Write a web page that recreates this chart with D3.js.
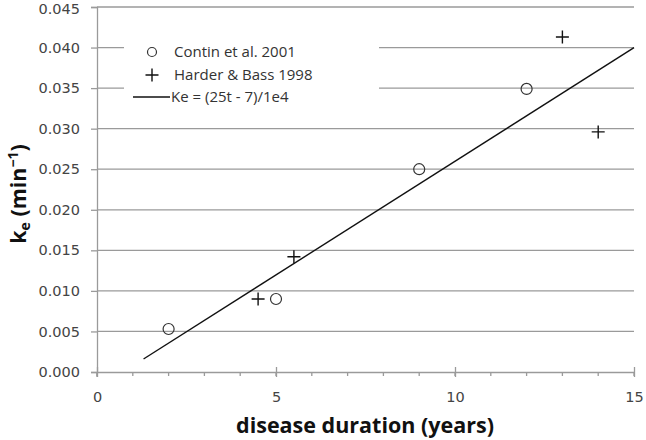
<!DOCTYPE html>
<html><head><meta charset="utf-8">
<script src="https://cdn.jsdelivr.net/npm/d3@7"></script>
<style>body{margin:0;background:#fff}svg{display:block}</style>
</head><body>
<svg id="c" width="646" height="440"></svg>
<script>
const continT = [2, 5, 9, 12];
const continKe = [0.0053, 0.0090, 0.0250, 0.0349];
const harderT = [4.5, 5.5, 13, 14];
const harderKe = [0.0090, 0.0142, 0.0413, 0.0296];
const fitT = [1.3, 15];
const fitKe = [0.0016, 0.0400];
const xTicks = [0, 5, 10, 15];
const yTicks = [0, 0.005, 0.010, 0.015, 0.020, 0.025, 0.030, 0.035, 0.040, 0.045];
const legendLabels = ["Contin et al. 2001", "Harder & Bass 1998", "Ke = (25t - 7)/1e4"];

const svg = d3.select("#c");
const x = d3.scaleLinear().domain([0, 15]).range([97, 634]);
const y = d3.scaleLinear().domain([0, 0.045]).range([372, 7]);
const grey = "#9a9a9a";
const tickFont = "'DejaVu Sans', Verdana, sans-serif";
const textFont = "'Open Sans', Lato, sans-serif";

// gridlines
svg.append("g").selectAll("line").data(yTicks.filter(d => d > 0)).join("line")
  .attr("x1", x(0)).attr("x2", x(15)).attr("y1", d => y(d)).attr("y2", d => y(d))
  .attr("stroke", grey).attr("stroke-width", 1.3);

// y axis
const yAxis = d3.axisLeft(y).tickValues(yTicks).tickFormat(d3.format(".3f")).tickSize(6).tickPadding(11);
const gy = svg.append("g").attr("transform", `translate(${x(0)},0)`).call(yAxis);
gy.select(".domain").attr("stroke", grey).attr("stroke-width", 1.3);
gy.selectAll(".tick line").attr("stroke", grey).attr("stroke-width", 1.3);
gy.selectAll(".tick text").attr("font-family", tickFont).attr("font-size", 14.5).attr("fill", "#444")
  .attr("dy", (d) => d === 0.045 ? "0.42em" : "0.32em");

// x axis minor ticks
const gx = svg.append("g").attr("transform", `translate(0,${y(0)})`);
gx.selectAll("line.minor").data(d3.range(0, 16)).join("line").attr("class", "minor")
  .attr("x1", d => x(d)).attr("x2", d => x(d)).attr("y1", 0).attr("y2", 4)
  .attr("stroke", grey).attr("stroke-width", 1.3);
const xAxis = d3.axisBottom(x).tickValues(xTicks).tickFormat(d3.format("d")).tickSizeInner(5).tickSizeOuter(0).tickPadding(15);
gx.call(xAxis);
gx.select(".domain").attr("stroke", grey).attr("stroke-width", 1.3);
gx.selectAll(".tick line").attr("y1", -5).attr("y2", 5).attr("stroke", grey).attr("stroke-width", 1.3);
gx.selectAll(".tick text").attr("font-family", tickFont).attr("font-size", 14.5).attr("fill", "#444");
svg.append("line").attr("x1", x(0)).attr("x2", x(0)).attr("y1", y(0)).attr("y2", y(0) + 5)
  .attr("stroke", grey).attr("stroke-width", 1.3);

// legend background
svg.append("rect").attr("x", 124).attr("y", 30).attr("width", 255).attr("height", 80).attr("fill", "#fff");

// fit line
svg.append("path").datum(fitT.map((t, i) => [t, fitKe[i]]))
  .attr("d", d3.line().x(d => x(d[0])).y(d => y(d[1])))
  .attr("fill", "none").attr("stroke", "#111").attr("stroke-width", 1.4);

// circles
svg.append("g").selectAll("circle").data(continT.map((t, i) => [t, continKe[i]])).join("circle")
  .attr("cx", d => x(d[0])).attr("cy", d => y(d[1])).attr("r", 5.5)
  .attr("fill", "none").attr("stroke", "#333").attr("stroke-width", 1.2);

// plus
const plusPath = (cx, cy, h) => `M${cx - h},${cy}H${cx + h}M${cx},${cy - h}V${cy + h}`;
svg.append("g").selectAll("path").data(harderT.map((t, i) => [t, harderKe[i]])).join("path")
  .attr("d", d => plusPath(x(d[0]), y(d[1]), 6.5))
  .attr("fill", "none").attr("stroke", "#111").attr("stroke-width", 1.4);

// legend
const lg = svg.append("g");
lg.append("circle").attr("cx", 152).attr("cy", 52).attr("r", 4.5).attr("fill", "none").attr("stroke", "#333").attr("stroke-width", 1.2);
lg.append("path").attr("d", plusPath(152, 75, 6.5)).attr("fill", "none").attr("stroke", "#111").attr("stroke-width", 1.4);
lg.append("line").attr("x1", 133).attr("x2", 170).attr("y1", 97).attr("y2", 97).attr("stroke", "#111").attr("stroke-width", 1.3);
lg.selectAll("text").data(legendLabels).join("text")
  .attr("x", (d, i) => i === 2 ? 171 : 174).attr("y", (d, i) => [52, 75, 97][i]).attr("dy", "0.35em")
  .attr("font-family", textFont).attr("font-size", 15).attr("fill", "#333").text(d => d);

// axis titles
svg.append("text").attr("x", 365).attr("y", 433).attr("text-anchor", "middle")
  .attr("font-family", textFont).attr("font-weight", "bold").attr("font-size", 21.5).attr("fill", "#111")
  .text("disease duration (years)");
const yt = svg.append("text").attr("transform", "translate(26,194) rotate(-90)").attr("text-anchor", "middle")
  .attr("font-family", textFont).attr("font-weight", "bold").attr("font-size", 21.5).attr("fill", "#111");
yt.append("tspan").text("k");
yt.append("tspan").attr("font-size", 14).attr("dy", 4).text("e");
yt.append("tspan").attr("dy", -4).text(" (min");
yt.append("tspan").attr("font-size", 14).attr("dy", -8).text("−1");
yt.append("tspan").attr("dy", 8).text(")");
</script>
</body></html>
